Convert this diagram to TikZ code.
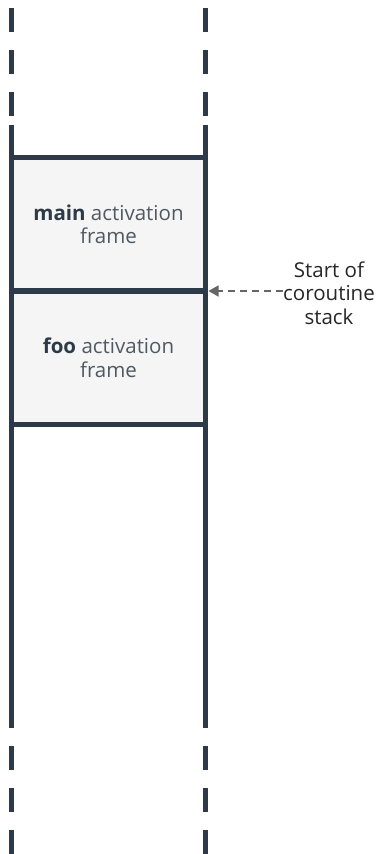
\documentclass[tikz,border=0pt]{standalone}
\usepackage{fontspec}
\setmainfont{Open Sans}
\usetikzlibrary{arrows.meta}
\definecolor{rail}{RGB}{44,58,74}
\definecolor{framefill}{RGB}{245,245,245}
\definecolor{labeltext}{RGB}{80,88,98}
\definecolor{pointer}{RGB}{102,102,102}
\tikzset{
  x=1pt, y=-1pt,
  railline/.style={draw=rail, line width=5.5pt},
  raildash/.style={draw=rail, line width=5.5pt, dash pattern=on 24pt off 18pt},
  stackframe/.style={draw=rail, fill=framefill, line width=5.5pt,
    minimum width=194pt, inner sep=0pt, align=center, text=labeltext,
    font=\fontsize{20.5}{23.5}\selectfont},
  note/.style={align=center, text=black!85, inner sep=0pt,
    font=\fontsize{20.5}{23.5}\selectfont},
  pointerline/.style={draw=pointer, line width=1.6pt, dash pattern=on 7pt off 5pt,
    -{Triangle[length=10pt,width=11pt,fill=pointer]}}
}
\begin{document}
\begin{tikzpicture}
\useasboundingbox (0,0) rectangle (379,854);

% stack frames
\node[stackframe, minimum height=133.5pt] (main) at (108.5,224.25)
  {{\bfseries\color{rail}main} activation\\frame};
\node[stackframe, minimum height=133.5pt] (foo) at (108.5,357.75)
  {{\bfseries\color{rail}foo} activation\\frame};

% rails of the stack
\coordinate (ltop) at (11.5,125);
\coordinate (lbot) at (11.5,728);
\coordinate (rtop) at (205.5,125);
\coordinate (rbot) at (205.5,728);
\draw[railline] (ltop) -- (lbot);
\draw[railline] (rtop) -- (rbot);
\draw[raildash] (11.5,8) -- (ltop);
\draw[raildash] (205.5,8) -- (rtop);
\draw[raildash] (11.5,746) -- (11.5,860);
\draw[raildash] (205.5,746) -- (205.5,860);

% pointer to the start of the coroutine stack
\node[note] (start) at (329,293) {Start of\\coroutine\\stack};
\coordinate (startpt) at (208.5,291);
\draw[pointerline] (start.west |- startpt) -- (startpt);
\end{tikzpicture}
\end{document}
